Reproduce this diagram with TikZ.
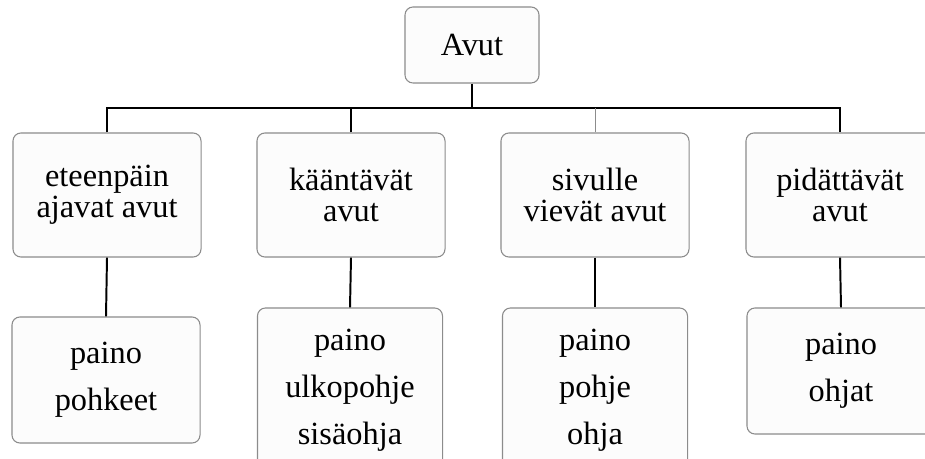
\documentclass[tikz,border=0pt]{standalone}
\usepackage{fontspec}
\setmainfont{Liberation Serif}
\usetikzlibrary{positioning,calc}
\tikzset{every picture/.style={line width=0.75pt}}
\tikzset{
  box/.style={draw=black!45, fill=black!1, rounded corners=0.2cm, align=center,
    inner sep=0pt, minimum width=4.7cm},
  ylabox/.style={box, minimum width=3.35cm, minimum height=1.9cm,
    font=\fontsize{23}{22}\selectfont},
  ryhma/.style={box, minimum height=3.1cm, font=\fontsize{23}{22}\selectfont},
  keino/.style={box, minimum height=3.15cm, font=\fontsize{23}{33.5}\selectfont},
  keinot/.style={keino, minimum width=4.625cm, minimum height=4.1cm},
  viiva/.style={line width=1.4pt, black},
  ohutviiva/.style={line width=0.7pt, black!45}
}

\begin{document}
\begin{tikzpicture}[x=0.025cm, y=-0.025cm]
    \useasboundingbox (0,0) rectangle (925,459);

    % ylin laatikko
    \node[ylabox] (avut) at (472,45) {Avut};

    % avut ryhmittain
    \node[ryhma] (eteen)  at (107,195) {eteenpäin\\ajavat avut};
    \node[ryhma] (kaanta) at (351,195) {kääntävät\\avut};
    \node[ryhma] (sivu)   at (595,195) {sivulle\\vievät avut};
    \node[ryhma] (pidat)  at (840,195) {pidättävät\\avut};

    % keinot
    \node[keino]  (eteenK)  at (106,380) {paino\\pohkeet};
    \node[keinot] (kaantaK) at (350,390) {paino\\ulkopohje\\sisäohja};
    \node[keinot] (sivuK)   at (595,390) {paino\\pohje\\ohja};
    \node[keino]  (pidatK)  at (841,371) {paino\\ohjat};

    % kytkennät
    \coordinate (vaaka) at (0,108);
    \draw[viiva] (avut.south) -- (avut.south |- vaaka);
    \draw[viiva] (eteen.north) -- (eteen.north |- vaaka) -- (pidat.north |- vaaka) -- (pidat.north);
    \draw[viiva] (kaanta.north) -- (kaanta.north |- vaaka);
    \draw[ohutviiva] (sivu.north) -- (sivu.north |- vaaka);

    \draw[viiva] (eteen.south) -- (eteenK.north);
    \draw[viiva] (kaanta.south) -- (kaantaK.north);
    \draw[viiva] (sivu.south) -- (sivuK.north);
    \draw[viiva] (pidat.south) -- (pidatK.north);
\end{tikzpicture}
\end{document}
